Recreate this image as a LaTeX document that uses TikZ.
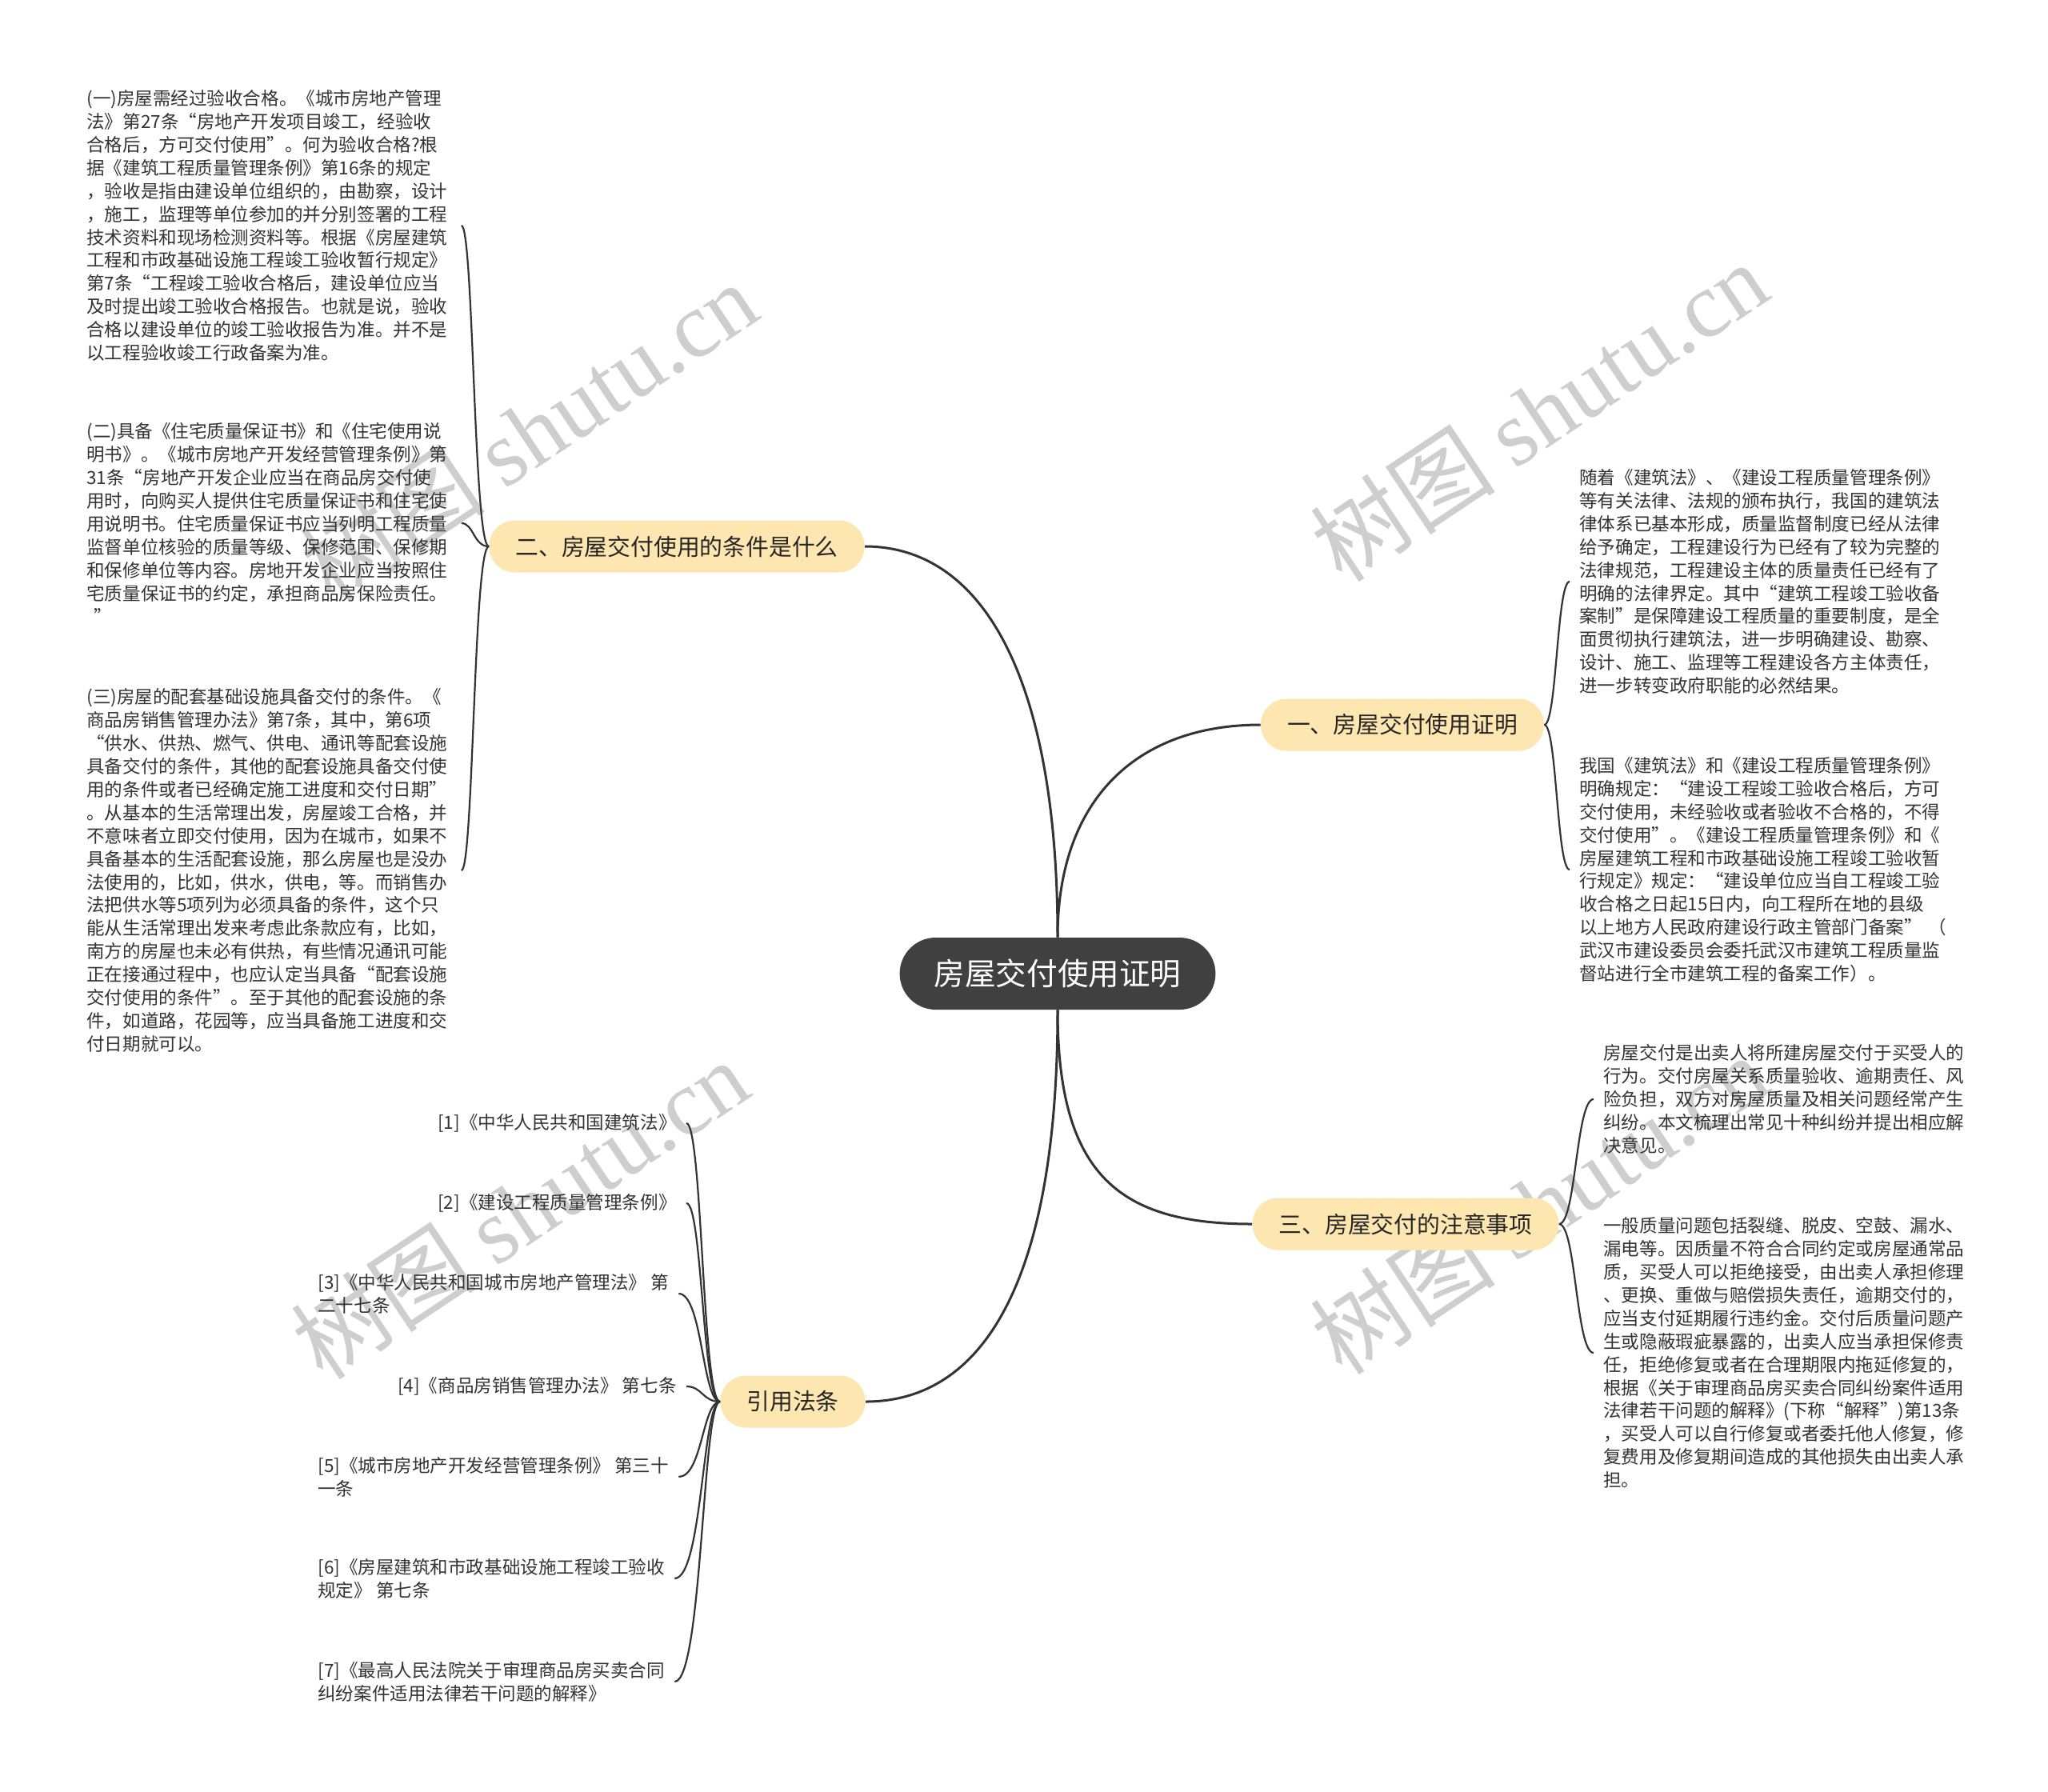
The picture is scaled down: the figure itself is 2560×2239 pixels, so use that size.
\documentclass[tikz,border=0pt]{standalone}
\usepackage{fontspec}
\setmainfont{Noto Sans CJK SC}
\newfontfamily\wmlatin{Liberation Serif}
\definecolor{rootgray}{RGB}{64,64,64}
\definecolor{branchfill}{RGB}{253,230,176}
\definecolor{linegray}{RGB}{51,51,51}
\definecolor{leaftext}{RGB}{51,51,51}
\definecolor{wmgray}{RGB}{206,206,206}

\begin{document}
\begin{tikzpicture}[x=0.5pt,y=-0.5pt,
    rootbox/.style={fill=rootgray, text=white, rounded corners=22.5pt,
      minimum height=45pt, inner xsep=21.5pt, font=\fontsize{19.3}{23}\selectfont},
    branchbox/.style={fill=branchfill, text=black!85, rounded corners=16pt,
      minimum height=32.5pt, inner xsep=16.5pt, font=\fontsize{14.4}{17}\selectfont},
    leafbox/.style={text=leaftext, text width=228pt, align=left, inner xsep=6pt,
      inner ysep=0pt, font=\fontsize{11.27}{14.45}\selectfont},
    refbox/.style={text=leaftext, align=left, inner xsep=6pt, inner ysep=0pt,
      font=\fontsize{11.27}{14.45}\selectfont},
    mainline/.style={draw=linegray, line width=1.5pt},
    leafline/.style={draw=linegray, line width=1.1pt},
    watermark/.style={text=wmgray, font=\fontsize{58}{60}\selectfont, rotate=33.7}]

    \path[use as bounding box, fill=white] (0,0) rectangle (2560,2239);

    % vodoznak
    \node[watermark] (wm1) at (661,539) {树图 {\wmlatin shutu.cn}};
    \node[watermark] (wm2) at (1924,514) {树图 {\wmlatin shutu.cn}};
    \node[watermark] (wm3) at (650,1511) {树图 {\wmlatin shutu.cn}};
    \node[watermark] (wm4) at (1924,1505) {树图 {\wmlatin shutu.cn}};

    % stred
    \node[rootbox] (root) at (1322,1217) {房屋交付使用证明};

    % vetve
    \node[branchbox] (cond) at (846,683) {二、房屋交付使用的条件是什么};
    \node[branchbox] (proof) at (1753,906) {一、房屋交付使用证明};
    \node[branchbox] (note) at (1757,1530) {三、房屋交付的注意事项};
    \node[branchbox] (laws) at (991,1752) {引用法条};

    \draw[mainline] (root.north) .. controls (1322,850) and (1230,683) .. (cond.east);
    \draw[mainline] (root.north) .. controls (1322,1000) and (1420,906) .. (proof.west);
    \draw[mainline] (root.south) .. controls (1322,1470) and (1400,1530) .. (note.west);
    \draw[mainline] (root.south) .. controls (1322,1600) and (1230,1752) .. (laws.east);

    % listy - podminky
    \node[leafbox, anchor=west] (cond1) at (96,282) {(一)房屋需经过验收合格。《城市房地产管理\\
      法》第27条“房地产开发项目竣工，经验收\\
      合格后，方可交付使用”。何为验收合格?根\\
      据《建筑工程质量管理条例》第16条的规定\\
      ，验收是指由建设单位组织的，由勘察，设计\\
      ，施工，监理等单位参加的并分别签署的工程\\
      技术资料和现场检测资料等。根据《房屋建筑\\
      工程和市政基础设施工程竣工验收暂行规定》\\
      第7条“工程竣工验收合格后，建设单位应当\\
      及时提出竣工验收合格报告。也就是说，验收\\
      合格以建设单位的竣工验收报告为准。并不是\\
      以工程验收竣工行政备案为准。};
    \node[leafbox, anchor=west] (cond2) at (96,654) {(二)具备《住宅质量保证书》和《住宅使用说\\
      明书》。《城市房地产开发经营管理条例》第\\
      31条“房地产开发企业应当在商品房交付使\\
      用时，向购买人提供住宅质量保证书和住宅使\\
      用说明书。住宅质量保证书应当列明工程质量\\
      监督单位核验的质量等级、保修范围、保修期\\
      和保修单位等内容。房地开发企业应当按照住\\
      宅质量保证书的约定，承担商品房保险责任。\\
      \hspace*{0.4em}”};
    \node[leafbox, anchor=west] (cond3) at (96,1088) {(三)房屋的配套基础设施具备交付的条件。《\\
      商品房销售管理办法》第7条，其中，第6项\\
      “供水、供热、燃气、供电、通讯等配套设施\\
      具备交付的条件，其他的配套设施具备交付使\\
      用的条件或者已经确定施工进度和交付日期”\\
      。从基本的生活常理出发，房屋竣工合格，并\\
      不意味者立即交付使用，因为在城市，如果不\\
      具备基本的生活配套设施，那么房屋也是没办\\
      法使用的，比如，供水，供电，等。而销售办\\
      法把供水等5项列为必须具备的条件，这个只\\
      能从生活常理出发来考虑此条款应有，比如，\\
      南方的房屋也未必有供热，有些情况通讯可能\\
      正在接通过程中，也应认定当具备“配套设施\\
      交付使用的条件”。至于其他的配套设施的条\\
      件，如道路，花园等，应当具备施工进度和交\\
      付日期就可以。};

    \coordinate (condj) at (592,683);
    \foreach \leaf in {cond1,cond2,cond3}
      \draw[leafline] (cond.west) .. controls (condj) and (condj |- \leaf.east) .. (\leaf.east);

    % listy - dukaz
    \node[leafbox, anchor=west] (proof1) at (1962,727) {随着《建筑法》、《建设工程质量管理条例》\\
      等有关法律、法规的颁布执行，我国的建筑法\\
      律体系已基本形成，质量监督制度已经从法律\\
      给予确定，工程建设行为已经有了较为完整的\\
      法律规范，工程建设主体的质量责任已经有了\\
      明确的法律界定。其中“建筑工程竣工验收备\\
      案制”是保障建设工程质量的重要制度，是全\\
      面贯彻执行建筑法，进一步明确建设、勘察、\\
      设计、施工、监理等工程建设各方主体责任，\\
      进一步转变政府职能的必然结果。};
    \node[leafbox, anchor=west] (proof2) at (1962,1087) {我国《建筑法》和《建设工程质量管理条例》\\
      明确规定：“建设工程竣工验收合格后，方可\\
      交付使用，未经验收或者验收不合格的，不得\\
      交付使用”。《建设工程质量管理条例》和《\\
      房屋建筑工程和市政基础设施工程竣工验收暂\\
      行规定》规定：“建设单位应当自工程竣工验\\
      收合格之日起15日内，向工程所在地的县级\\
      以上地方人民政府建设行政主管部门备案”~（\\
      武汉市建设委员会委托武汉市建筑工程质量监\\
      督站进行全市建筑工程的备案工作）。};

    \coordinate (proofj) at (1946,906);
    \foreach \leaf in {proof1,proof2}
      \draw[leafline] (proof.east) .. controls (proofj) and (proofj |- \leaf.west) .. (\leaf.west);

    % listy - poznamky
    \node[leafbox, anchor=west] (note1) at (1992,1374) {房屋交付是出卖人将所建房屋交付于买受人的\\
      行为。交付房屋关系质量验收、逾期责任、风\\
      险负担，双方对房屋质量及相关问题经常产生\\
      纠纷。本文梳理出常见十种纠纷并提出相应解\\
      决意见。};
    \node[leafbox, anchor=west] (note2) at (1992,1691) {一般质量问题包括裂缝、脱皮、空鼓、漏水、\\
      漏电等。因质量不符合合同约定或房屋通常品\\
      质，买受人可以拒绝接受，由出卖人承担修理\\
      、更换、重做与赔偿损失责任，逾期交付的，\\
      应当支付延期履行违约金。交付后质量问题产\\
      生或隐蔽瑕疵暴露的，出卖人应当承担保修责\\
      任，拒绝修复或者在合理期限内拖延修复的，\\
      根据《关于审理商品房买卖合同纠纷案件适用\\
      法律若干问题的解释》(下称“解释”)第13条\\
      ，买受人可以自行修复或者委托他人修复，修\\
      复费用及修复期间造成的其他损失由出卖人承\\
      担。};

    \coordinate (notej) at (1970,1530);
    \foreach \leaf in {note1,note2}
      \draw[leafline] (note.east) .. controls (notej) and (notej |- \leaf.west) .. (\leaf.west);

    % listy - zakony
    \node[refbox, anchor=east] (law1) at (858,1404) {[1]《中华人民共和国建筑法》};
    \node[refbox, anchor=east] (law2) at (858,1504) {[2]《建设工程质量管理条例》};
    \node[refbox, anchor=west] (law3) at (385,1617) {[3]《中华人民共和国城市房地产管理法》 第\\二十七条};
    \node[refbox, anchor=east] (law4) at (858,1733) {[4]《商品房销售管理办法》 第七条};
    \node[refbox, anchor=west] (law5) at (385,1846) {[5]《城市房地产开发经营管理条例》 第三十\\一条};
    \node[refbox, anchor=west] (law6) at (385,1973) {[6]《房屋建筑和市政基础设施工程竣工验收\\规定》 第七条};
    \node[refbox, anchor=west] (law7) at (385,2102) {[7]《最高人民法院关于审理商品房买卖合同\\纠纷案件适用法律若干问题的解释》};

    \coordinate (lawsj) at (878,1752);
    \foreach \leaf in {law1,law2,law3,law4,law5,law6,law7}
      \draw[leafline] (laws.west) .. controls (lawsj) and (lawsj |- \leaf.east) .. (\leaf.east);

\end{tikzpicture}
\end{document}
